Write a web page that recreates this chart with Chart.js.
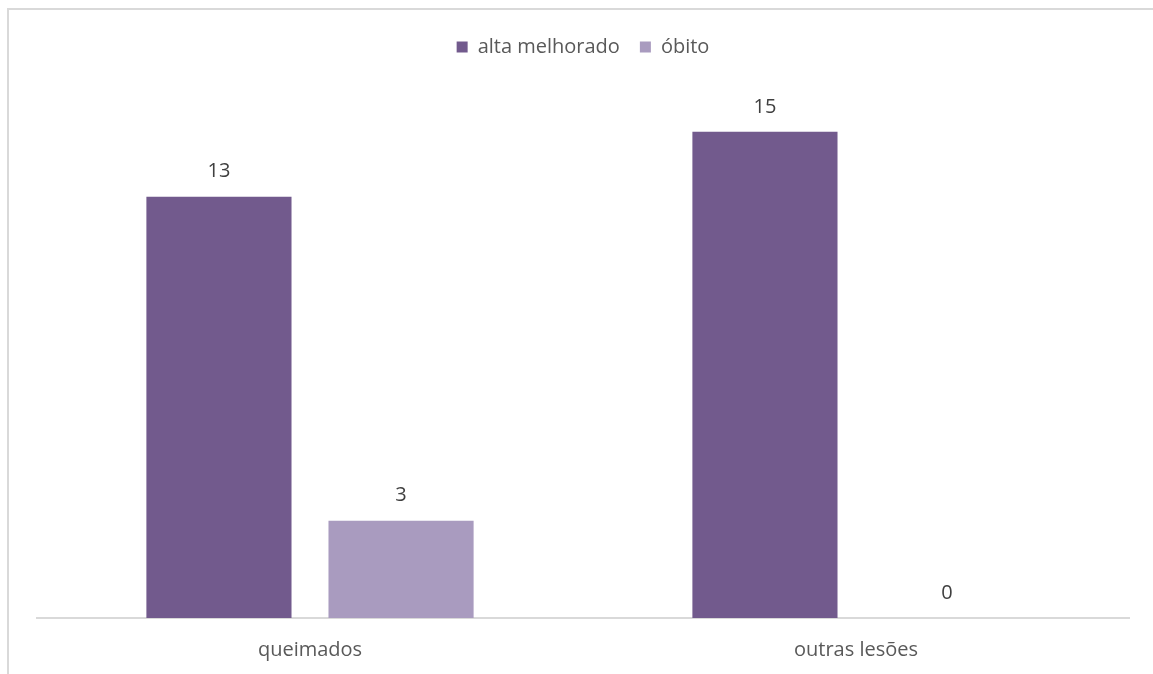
<!DOCTYPE html>
<html>
<head>
<meta charset="utf-8">
<script src="https://cdn.jsdelivr.net/npm/chart.js@4.4.0/dist/chart.umd.min.js"></script>
<style>
  html, body { margin: 0; padding: 0; background: #fff; overflow: hidden; }
  #frame {
    position: absolute; left: 7px; top: 8px; width: 1200px; height: 700px;
    border-top: 2px solid #d9d9d9; border-left: 2px solid #d9d9d9;
  }
  #wrap { position: absolute; left: 0; top: 0; width: 1153px; height: 694px; }
</style>
</head>
<body>
<div id="frame"></div>
<div id="wrap"><canvas id="myChart" width="1153" height="694"></canvas></div>
<script>
let categories = ["queimados", "outras lesões"];
let altaMelhorado = [13, 15];
let obito = [3, 0];
let seriesNames = ["alta melhorado", "óbito"];

let fontFamily = "'Open Sans', sans-serif";
let ctx = document.getElementById("myChart").getContext("2d");

// draws the value above each bar
let valueLabels = {
  id: "valueLabels",
  afterDatasetsDraw(chart) {
    let c = chart.ctx;
    c.save();
    c.font = "20px " + fontFamily;
    c.fillStyle = "#404040";
    c.textAlign = "center";
    c.textBaseline = "middle";
    chart.data.datasets.forEach((ds, i) => {
      chart.getDatasetMeta(i).data.forEach((bar, j) => {
        c.fillText(String(ds.data[j]), bar.x, bar.y - 25);
      });
    });
    c.restore();
  },
};

let chart = new Chart(ctx, {
  type: "bar",
  data: {
    labels: categories,
    datasets: [
      {
        label: seriesNames[0],
        data: altaMelhorado,
        backgroundColor: "#725a8d",
        barPercentage: 0.797,
        categoryPercentage: 0.667,
      },
      {
        label: seriesNames[1],
        data: obito,
        backgroundColor: "#a99bbf",
        barPercentage: 0.797,
        categoryPercentage: 0.667,
      },
    ],
  },
  options: {
    responsive: false,
    animation: false,
    layout: { padding: { left: 37, right: 24, top: 17, bottom: 12 } },
    plugins: {
      tooltip: { enabled: false },
      legend: {
        position: "top",
        labels: {
          boxWidth: 11,
          boxHeight: 11,
          padding: 20,
          color: "#595959",
          font: { family: fontFamily, size: 20 },
        },
      },
    },
    scales: {
      x: {
        grid: { display: false, drawTicks: false },
        border: { display: true, color: "#d9d9d9", width: 2 },
        ticks: {
          color: "#595959",
          padding: 20,
          font: { family: fontFamily, size: 20 },
        },
      },
      y: {
        display: false,
        min: 0,
        max: 17,
      },
    },
  },
  plugins: [valueLabels],
});
</script>
</body>
</html>
